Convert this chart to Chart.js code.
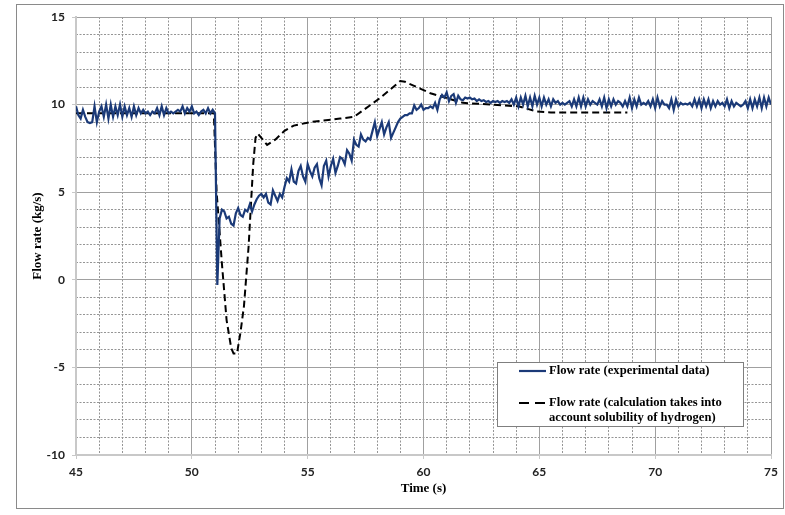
<!DOCTYPE html>
<html><head><meta charset="utf-8">
<script src="https://cdn.jsdelivr.net/npm/chart.js@4"></script>
<style>html,body{margin:0;padding:0;background:#fff}</style>
</head><body>
<canvas id="c" width="785" height="515"></canvas>
<script>
// ---- data ----
const expStart = 45.0;
const expStep = 0.1;
const expValues = [
 9.9,9.4,9.2,9.7,9.3,9.0,8.95,9.0,9.9,9.0,
 9.6,9.9,9.3,10.0,9.2,10.0,9.3,9.9,9.4,10.0,
 9.3,9.9,9.4,9.8,9.3,9.9,9.4,9.8,9.5,9.7,
 9.5,9.6,9.4,9.6,9.5,9.8,9.4,9.9,9.4,9.8,
 9.5,9.6,9.5,9.6,9.7,9.6,9.9,9.5,9.8,9.6,
 9.9,9.5,9.6,9.4,9.6,9.7,9.5,9.8,9.5,9.7,
 9.5,-0.3,3.5,4.0,3.9,3.5,3.6,3.2,3.1,3.8,
 4.1,3.7,3.6,4.0,3.9,4.3,3.9,4.3,4.6,4.8,
 4.9,4.7,4.9,4.4,4.3,5.1,4.8,4.5,4.9,4.7,
 5.3,5.8,5.6,6.3,5.6,5.5,6.2,6.5,5.9,5.6,
 6.6,6.2,5.9,6.4,6.6,5.8,5.4,6.5,6.8,5.9,
 6.5,6.9,6.1,6.5,7.0,6.9,6.6,7.4,7.2,6.8,
 8.0,7.7,7.6,8.3,8.0,7.9,8.1,8.0,8.5,9.0,
 8.2,8.6,9.0,8.3,8.7,9.0,8.1,8.4,8.7,9.0,
 9.2,9.3,9.4,9.4,9.5,9.5,9.95,9.7,9.8,10.0,
 9.7,9.8,9.8,9.9,9.8,10.1,9.7,10.3,10.55,10.4,
 10.7,10.2,10.5,10.6,10.1,10.5,10.3,10.25,10.4,10.35,
 10.4,10.3,10.35,10.2,10.3,10.2,10.25,10.15,10.2,10.1,
 10.2,10.15,10.2,10.1,10.2,10.15,10.2,10.1,10.3,10.0,
 10.4,9.9,10.4,10.0,10.5,9.9,10.4,9.9,10.5,10.0,
 10.4,9.9,10.4,10.0,10.3,9.9,10.3,10.1,10.2,10.0,
 10.1,10.0,10.1,10.2,9.9,10.3,9.9,10.4,9.9,10.4,
 9.9,10.3,10.0,10.2,10.1,10.0,10.3,9.9,10.4,9.8,
 10.3,9.9,10.3,10.0,10.2,10.1,9.9,10.2,9.9,10.4,
 9.8,10.3,9.9,10.4,10.0,10.1,10.0,10.2,9.9,10.3,
 9.8,10.4,9.9,10.2,10.0,10.0,9.8,10.3,9.7,10.3,
 9.9,10.1,10.0,10.05,10.0,10.1,9.9,10.3,9.9,10.3,
 9.8,10.3,9.9,10.3,9.8,10.2,9.9,10.2,10.0,10.1,
 9.9,10.3,9.8,10.2,9.9,10.1,10.0,9.9,10.0,10.2,
 9.8,10.3,9.8,10.3,9.9,10.4,9.8,10.4,9.9,10.4,
 10.0
];
const calcTimes  = [45.0, 50.95, 51.07, 51.3, 51.5, 51.7, 51.8, 51.95, 52.1, 52.25, 52.45, 52.65, 52.75, 52.85, 53.0, 53.25, 53.6, 54.0, 54.4, 55.1, 56.4, 57.0, 58.1, 59.0, 59.2, 60.3, 61.7, 64.1, 64.9, 65.5, 68.8];
const calcValues = [9.5, 9.5, 5.0, 0.9, -2.3, -3.9, -4.2, -4.2, -3.0, -1.5, 1.9, 6.6, 8.1, 8.35, 8.1, 7.7, 8.0, 8.5, 8.8, 9.0, 9.2, 9.3, 10.35, 11.35, 11.3, 10.65, 10.1, 9.9, 9.6, 9.55, 9.55];
const seriesLabels = ['Flow rate (experimental data)', 'Flow rate (calculation takes into account solubility of hydrogen)'];
const legendLines = [['Flow rate (experimental data)'], ['Flow rate (calculation takes into', 'account solubility of hydrogen)']];
const xRange = [45, 75];
const yRange = [-10, 15];
const majorStep = 5;
const minorStep = 1;
const xTitle = 'Time (s)';
const yTitle = 'Flow rate (kg/s)';

// ---- build ----
const expPoints = expValues.map((v, i) => ({x: +(expStart + i * expStep).toFixed(2), y: v}));
const calcPoints = calcTimes.map((t, i) => ({x: t, y: calcValues[i]}));

const tickFont = {family: 'Lato', size: 12, weight: 'bold'};
const titleFont = {family: 'Liberation Serif', size: 13, weight: 'bold'};

const frame = {
  id: 'frame',
  beforeDraw(chart) {
    const c = chart.ctx;
    c.save();
    c.fillStyle = '#fff';
    c.fillRect(0, 0, chart.width, chart.height);
    c.restore();
  },
  afterDraw(chart) {
    const c = chart.ctx;
    c.save();
    c.strokeStyle = '#8a8a8a';
    c.lineWidth = 1;
    c.strokeRect(16.5, 4.5, 767, 504);
    // legend
    const bx = 497.5, by = 362.5, bw = 246, bh = 64;
    c.fillStyle = '#fff';
    c.fillRect(bx, by, bw, bh);
    c.strokeStyle = '#7f7f7f';
    c.strokeRect(bx, by, bw, bh);
    const ds = chart.data.datasets;
    const rows = [371, 403];
    c.font = 'bold 12.6px "Liberation Serif"';
    c.textBaseline = 'middle';
    c.fillStyle = '#000';
    ds.forEach((d, i) => {
      const y = rows[i];
      c.beginPath();
      c.strokeStyle = d.borderColor;
      c.lineWidth = d.borderWidth;
      c.setLineDash(d.borderDash ? [10, 6] : []);
      c.moveTo(519, y); c.lineTo(546, y);
      c.stroke();
      c.setLineDash([]);
      legendLines[i].forEach((t, k) => c.fillText(t, 549, y + k * 15));
    });
    c.restore();
  }
};

new Chart(document.getElementById('c'), {
  type: 'line',
  data: {
    datasets: [
      {label: seriesLabels[0], data: expPoints, borderColor: '#1b3a78', borderWidth: 2.2, pointRadius: 0, tension: 0, xAxisID: 'x', yAxisID: 'y'},
      {label: seriesLabels[1], data: calcPoints, borderColor: '#000', borderWidth: 2, borderDash: [7, 4], pointRadius: 0, tension: 0, xAxisID: 'x', yAxisID: 'y'}
    ]
  },
  options: {
    responsive: false,
    animation: false,
    devicePixelRatio: 1,
    layout: {padding: {left: 16, right: 14, top: 17, bottom: 16}},
    plugins: {legend: {display: false}, tooltip: {enabled: false}},
    scales: {
      xm: {
        type: 'linear', position: 'top', min: xRange[0], max: xRange[1],
        ticks: {stepSize: minorStep, display: false},
        grid: {drawTicks: false, color: c => (c.tick && c.tick.value % majorStep === 0) ? 'rgba(0,0,0,0)' : '#959595', lineWidth: 1},
        border: {display: false, dash: [2, 1.5]},
        afterFit: s => { s.height = 0; }
      },
      ym: {
        type: 'linear', position: 'right', min: yRange[0], max: yRange[1],
        ticks: {stepSize: minorStep, display: false},
        grid: {drawTicks: false, color: c => (c.tick && c.tick.value % majorStep === 0) ? 'rgba(0,0,0,0)' : '#959595', lineWidth: 1},
        border: {display: false, dash: [2, 1.5]},
        afterFit: s => { s.width = 0; }
      },
      x: {
        type: 'linear', position: 'bottom', min: xRange[0], max: xRange[1],
        ticks: {stepSize: majorStep, font: tickFont, color: '#222', padding: 6, maxRotation: 0},
        grid: {color: '#a0a0a0', lineWidth: 1, tickLength: 4, tickColor: '#c8c8c8'},
        border: {color: '#c8c8c8', width: 2},
        title: {display: true, text: xTitle, font: titleFont, color: '#000', padding: {top: 0, bottom: 3}},
        afterFit: s => { s.height = 44; }
      },
      y: {
        type: 'linear', position: 'left', min: yRange[0], max: yRange[1],
        ticks: {stepSize: majorStep, font: tickFont, color: '#222', padding: 7},
        grid: {color: '#a0a0a0', lineWidth: 1, tickLength: 4, tickColor: '#c8c8c8'},
        border: {color: '#c8c8c8', width: 2},
        title: {display: true, text: yTitle, font: titleFont, color: '#000', padding: {top: 14, bottom: 0}},
        afterFit: s => { s.width = 60; }
      }
    }
  },
  plugins: [frame]
});
</script>
</body></html>
